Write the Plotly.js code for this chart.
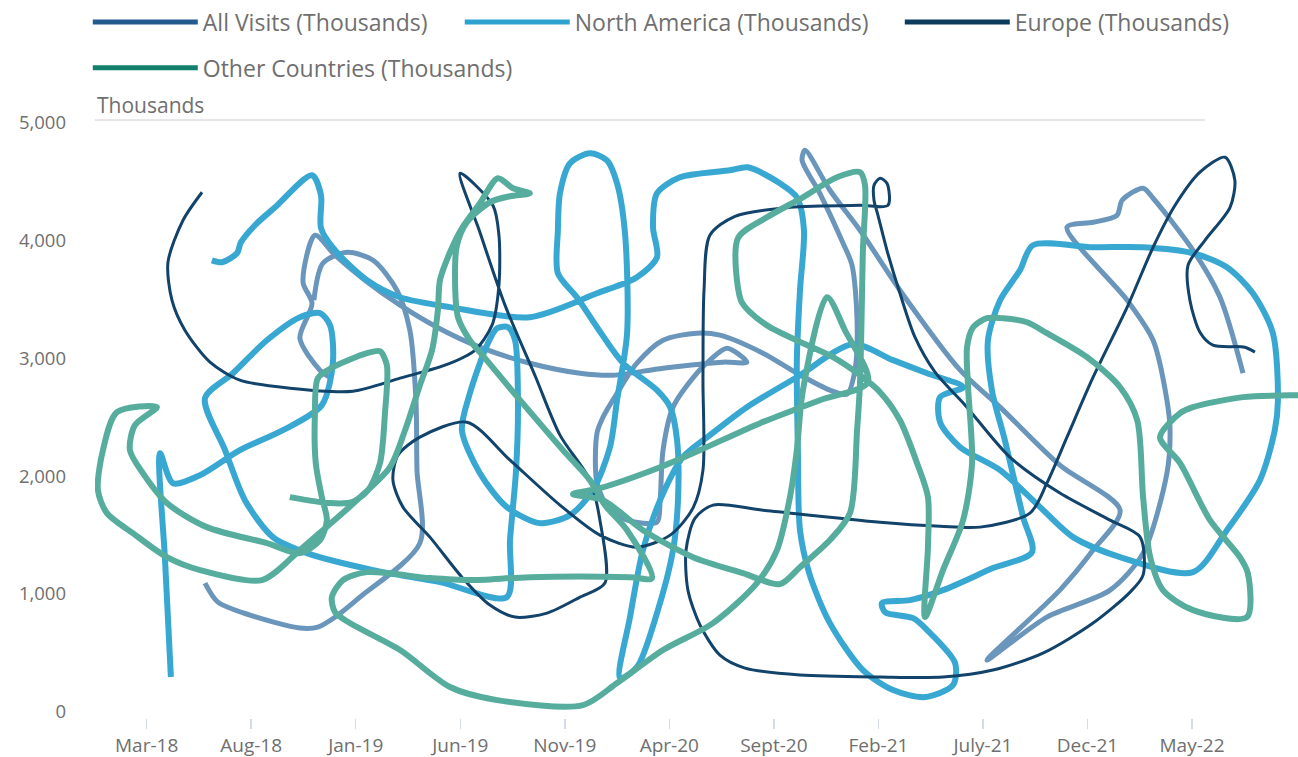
<!DOCTYPE html>
<html>
<head>
<meta charset="utf-8">
<script src="https://cdn.plot.ly/plotly-3.0.1.min.js"></script>
<style>
html,body{margin:0;padding:0;background:#fff;}
#chart{width:1298px;height:757px;}
</style>
</head>
<body>
<div id="chart"></div>
<script>
// Tick positions: months since Mar-2018
const tickMonths = [0,5,10,15,20,25,30,35,40,45,50];
const tickLabels = ['Mar-18','Aug-18','Jan-19','Jun-19','Nov-19','Apr-20','Sept-20','Feb-21','July-21','Dec-21','May-22'];
const yTickValues = [0,1000,2000,3000,4000,5000];
const yTickLabels = ['0','1,000','2,000','3,000','4,000','5,000'];

const seriesNames = ['All Visits (Thousands)','North America (Thousands)','Europe (Thousands)','Other Countries (Thousands)'];

// All Visits (x = months since Mar-2018, y = thousands)
const allVisitsMonth = [2.79,3.41,4.94,7.33,8.19,9.01,10.20,13.07,12.93,12.88,12.59,11.97,10.83,9.58,8.43,8.00,null,
  8.77,8.29,7.33,7.91,7.48,8.05,9.01,10.44,12.12,13.89,15.94,18.33,20.73,22.31,24.70,27.57,28.71,27.76,26.94,26.32,25.18,24.70,24.56,24.41,
  22.98,22.16,21.54,21.54,21.83,22.50,23.45,24.70,26.32,27.42,29.48,31.10,32.68,33.50,33.88,33.98,33.74,33.31,32.20,31.35,31.49,32.68,34.12,
  36.03,38.91,40.82,43.68,46.56,45.27,43.68,40.19,43.06,46.08,47.66,48.80,48.95,48.80,48.14,46.90,44.02,45.27,46.41,46.66,47.66,48.14,50.05,51.34,52.44];
const allVisitsValue = [1093,931,821,711,719,804,974,1432,2052,2646,3240,3580,3834,3902,3809,3495,null,
  2841,2901,3172,3469,3648,4047,3877,3665,3453,3266,3096,2960,2875,2858,2918,2969,2969,3087,2986,2875,2587,2222,1797,1610,
  1627,1712,1941,2366,2502,2705,2960,3155,3215,3198,3045,2875,2731,2697,2901,3325,3792,3979,4403,4683,4768,4429,4089,
  3580,2901,2587,2094,1712,1373,1033,439,804,1033,1347,2026,2391,2646,3155,3495,4115,4157,4216,4344,4446,4361,3919,3520,2875];

// North America
const northAmericaMonth = [3.12,3.60,4.32,4.51,5.18,6.14,7.91,8.34,8.34,9.01,
  10.54,12.12,14.51,18.33,21.54,23.45,24.41,24.22,24.41,25.51,
  27.90,28.76,30.29,31.10,31.44,31.25,31.10,31.15,31.25,31.72,
  32.68,34.26,35.70,37.23,38.57,38.67,37.33,36.66,35.32,35.17,
  36.51,38.09,40.48,42.35,41.92,41.05,40.43,40.24,40.82,41.77,
  42.39,45.27,47.66,50.05,51.67,52.91,53.87,54.11,53.96,53.25,
  51.67,50.05,46.56,44.31,42.73,40.82,38.91,37.95,37.95,39.05,
  37.33,35.70,33.78,31.10,28.71,26.94,25.65,24.56,23.74,23.12,
  22.64,23.45,24.41,25.18,25.42,25.37,25.04,24.41,22.79,21.54,
  20.58,19.67,19.67,19.77,20.25,21.20,22.02,22.50,22.88,22.98,
  22.50,22.16,21.35,20.25,18.81,17.23,15.94,15.08,15.46,16.28,
  16.76,17.28,17.62,17.76,17.67,17.38,17.23,14.03,10.83,7.67,
  6.04,4.70,3.75,2.79,4.13,5.75,7.33,8.29,8.77,8.91,
  8.38,6.52,4.46,2.55,1.26,0.64,0.88,1.16];
const northAmericaValue = [3834,3818,3894,3987,4132,4284,4556,4386,4106,3919,
  3665,3520,3436,3351,3554,3690,3860,4115,4403,4539,
  4599,4624,4488,4369,4089,3580,2986,2222,1542,1160,
  753,354,184,125,227,413,694,795,846,923,
  948,1033,1220,1356,1653,2306,2731,3155,3495,3750,
  3962,3945,3945,3894,3775,3554,3215,2646,2391,1967,
  1542,1186,1313,1483,1738,2052,2247,2459,2672,2756,
  2875,2986,3121,2841,2587,2349,2162,1797,1373,804,
  286,379,838,1373,1823,2306,2587,2731,2960,3266,
  3520,3724,4089,4403,4658,4743,4683,4488,4064,3215,
  2646,2247,1882,1670,1602,1738,2026,2391,2705,3113,
  3257,3266,3155,2646,2052,1458,974,1101,1203,1347,
  1483,1797,2222,2663,2875,3155,3351,3385,3283,2969,
  2604,2391,2222,2009,1941,2196,1288,295];

// Europe
const europeMonth = [2.65,1.74,1.02,1.21,1.83,3.03,4.46,6.85,9.87,12.12,
  14.27,15.70,16.52,16.85,16.85,16.56,14.99,15.94,17.14,18.57,
  19.77,21.20,21.68,21.92,20.73,19.15,17.62,16.42,15.08,13.55,
  12.26,11.78,12.02,13.07,15.32,17.38,19.77,21.68,23.45,25.04,
  26.13,26.61,26.61,26.66,26.94,28.14,30.77,34.12,35.46,35.41,
  35.08,34.79,34.79,34.98,35.41,36.03,36.75,37.71,39.15,41.29,
  43.68,46.08,47.52,47.66,47.04,45.27,42.87,40.48,38.09,35.08,
  31.25,28.62,27.42,26.47,25.89,25.80,26.23,27.09,29.48,35.08,
  37.95,39.86,42.25,43.06,44.02,45.27,46.90,48.14,49.19,50.38,
  51.58,52.05,51.82,50.62,49.81,49.90,50.38,51.00,52.53,53.01];
const europeValue = [4412,4174,3817,3495,3240,2969,2816,2748,2722,2833,
  2943,3070,3283,3622,4047,4301,4573,4072,3453,2858,
  2349,1967,1627,1093,974,838,804,906,1143,1483,
  1738,1967,2179,2332,2459,2137,1755,1500,1398,1500,
  1729,2052,2816,3580,4047,4208,4284,4301,4301,4488,
  4531,4471,4344,4216,3919,3554,3181,2884,2604,2162,
  1857,1627,1483,1160,1016,753,498,354,295,295,
  312,371,481,736,1033,1373,1644,1755,1712,1610,
  1576,1568,1687,1941,2332,2841,3436,3945,4301,4582,
  4709,4514,4284,4004,3792,3495,3223,3113,3096,3054];

// Other Countries
const otherMonth = [6.85,8.77,9.82,10.59,11.16,11.40,11.49,11.16,10.54,8.91,
  8.19,8.05,8.09,8.38,8.62,8.29,7.33,5.75,2.88,0.97,
  -0.18,-0.80,-0.56,0.49,-1.42,-2.09,-2.33,-1.90,-0.66,0.97,
  2.55,5.52,7.33,8.43,10.06,11.64,12.36,13.07,13.65,13.93,
  14.03,14.51,15.08,15.94,16.80,17.52,18.33,17.38,16.42,15.32,
  14.84,14.75,14.89,15.46,16.18,17.86,19.91,21.20,21.92,22.98,
  24.17,23.12,18.33,15.46,13.55,10.54,9.39,8.86,9.01,9.72,
  12.12,14.51,16.76,20.87,22.50,24.70,27.09,29.19,30.15,30.77,
  31.10,31.39,32.54,33.40,34.50,32.20,29.34,26.47,24.56,21.68,
  20.39,21.83,23.74,26.13,28.52,30.29,31.25,32.68,33.64,33.98,
  34.12,34.26,34.36,34.12,33.02,31.39,29.67,28.28,28.42,28.86,
  29.81,31.39,32.83,34.12,35.08,36.03,36.85,37.37,37.37,37.23,
  38.09,39.05,39.48,39.29,39.24,39.53,40.19,40.96,42.11,43.06,
  44.98,46.56,47.38,47.66,48.00,48.61,50.05,52.63,52.67,52.29,
  50.86,49.43,48.47,49.43,50.05,52.44,55.07,56.60];
const otherValue = [1823,1772,1780,1882,2111,2536,2943,3062,3045,2926,
  2833,2536,2111,1823,1627,1458,1347,1432,1568,1772,
  2026,2222,2434,2587,2544,2222,1882,1687,1517,1313,
  1203,1118,1373,1542,1797,2077,2391,2773,3070,3410,
  3665,3902,4106,4318,4531,4446,4403,4378,4327,4157,
  3962,3707,3351,3155,3003,2646,2222,1967,1755,1542,
  1135,1143,1143,1118,1135,1186,1118,974,846,753,
  524,210,99,57,244,524,753,1093,1373,1823,
  2222,2731,3520,3240,2799,2646,2451,2222,2077,1899,
  1848,1797,1542,1313,1177,1084,1228,1458,1687,2391,
  2790,3919,4471,4582,4539,4369,4199,4021,3495,3393,
  3266,3130,3011,2858,2714,2476,2111,1823,1398,804,
  1203,1627,2111,2756,3096,3266,3342,3342,3308,3215,
  3011,2756,2476,1823,1313,1033,863,804,1177,1313,
  1627,2111,2332,2536,2587,2672,2688,2688];

const lineColors = ['#6b96bc','#38a8d2','#12436b','#56ad9e'];
const legendColors = ['#245b8f','#2da2cf','#0b3c5c','#13806d'];
const lineWidths = [5,6,3,6];
const legendIds = ['legend','legend2','legend3','legend4'];

const xs = [allVisitsMonth, northAmericaMonth, europeMonth, otherMonth];
const ys = [allVisitsValue, northAmericaValue, europeValue, otherValue];

const traces = [];
for (let i = 0; i < 4; i++) {
  traces.push({
    type:'scatter', mode:'lines', x:xs[i], y:ys[i], name:seriesNames[i],
    showlegend:false, connectgaps:false, hoverinfo:'skip',
    line:{color:lineColors[i], width:lineWidths[i], shape:'spline', smoothing:0.8}
  });
}
for (let i = 0; i < 4; i++) {
  traces.push({
    type:'scatter', mode:'lines', x:[null], y:[null], name:seriesNames[i],
    showlegend:true, legend:legendIds[i],
    line:{color:legendColors[i], width:5}
  });
}

const txt = '#6f6f6f';
function legendBox(x, y) {
  return {orientation:'h', x:x, y:y, xanchor:'left', yanchor:'top',
          font:{size:23, color:txt}, itemwidth:105, bgcolor:'rgba(0,0,0,0)'};
}
const layout = {
  width:1298, height:757,
  margin:{l:95, r:0, t:123, b:39},
  paper_bgcolor:'#ffffff', plot_bgcolor:'#ffffff',
  font:{family:'"Open Sans", sans-serif', color:txt},
  showlegend:true,
  legend:legendBox(-0.006, 1.206),
  legend2:legendBox(0.3032, 1.206),
  legend3:legendBox(0.669, 1.206),
  legend4:legendBox(-0.006, 1.129),
  xaxis:{range:[-2.47,55.07], tickmode:'array', tickvals:tickMonths, ticktext:tickLabels,
         ticks:'outside', ticklen:10, tickwidth:1.5, tickcolor:'#d3dbe9',
         showgrid:false, zeroline:false, showline:false,
         tickfont:{size:19, color:txt}, fixedrange:true},
  yaxis:{range:[-53,5000], tickmode:'array', tickvals:yTickValues, ticktext:yTickLabels,
         showgrid:false, zeroline:false, showline:false, ticks:'',
         ticklabelstandoff:28, tickfont:{size:18.5, color:txt}, fixedrange:true},
  shapes:[{type:'line', xref:'paper', yref:'paper', x0:0, x1:0.9227, y0:1.005, y1:1.005,
           line:{color:'#e6e6e6', width:2}, layer:'below'}],
  annotations:[{text:'Thousands', xref:'paper', yref:'paper', x:0, y:1.03,
                xanchor:'left', yanchor:'middle', showarrow:false,
                font:{size:21, color:txt}}]
};

Plotly.newPlot('chart', traces, layout, {displayModeBar:false, staticPlot:true});
</script>
</body>
</html>
